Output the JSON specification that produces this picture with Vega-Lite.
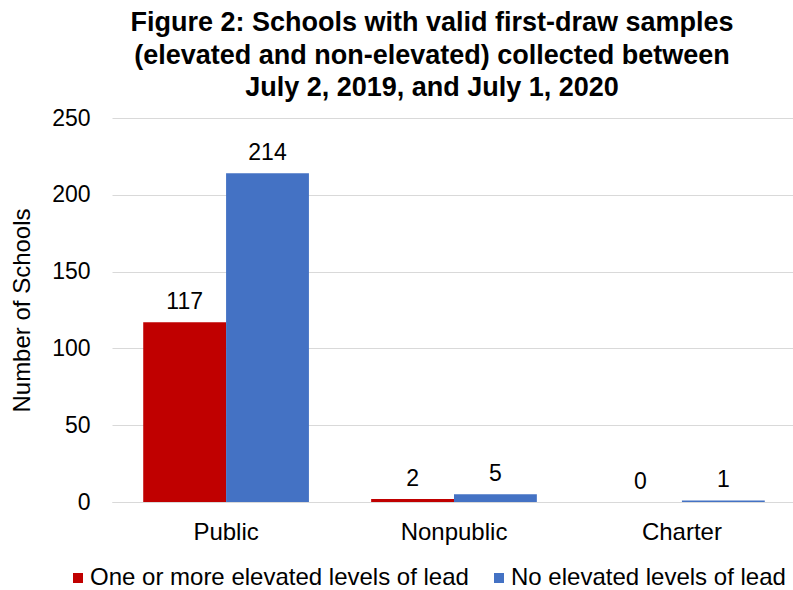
{
  "$schema": "https://vega.github.io/schema/vega-lite/v6.json",
  "autosize": "none",
  "padding": {"left": 112, "top": 118, "right": 0, "bottom": 88},
  "width": 684,
  "height": 384,
  "background": "white",
  "config": {
    "font": "Liberation Sans",
    "view": {"stroke": null}
  },
  "title": {
    "text": ["Figure 2: Schools with valid first-draw samples", "(elevated and non-elevated) collected between", "July 2, 2019, and July 1, 2020"],
    "fontSize": 27,
    "fontWeight": "bold",
    "lineHeight": 32.5,
    "color": "black",
    "anchor": "middle",
    "dx": -22,
    "offset": 5
  },
  "data": {
    "values": [
      {"type": "Public", "series": "One or more elevated levels of lead", "count": 117},
      {"type": "Public", "series": "No elevated levels of lead", "count": 214},
      {"type": "Nonpublic", "series": "One or more elevated levels of lead", "count": 2},
      {"type": "Nonpublic", "series": "No elevated levels of lead", "count": 5},
      {"type": "Charter", "series": "One or more elevated levels of lead", "count": 0},
      {"type": "Charter", "series": "No elevated levels of lead", "count": 1}
    ]
  },
  "encoding": {
    "x": {
      "field": "type",
      "type": "nominal",
      "sort": ["Public", "Nonpublic", "Charter"],
      "scale": {"paddingInner": 0.273, "paddingOuter": 0.137},
      "axis": {
        "title": null,
        "labelAngle": 0,
        "labelFontSize": 24,
        "labelColor": "black",
        "labelPadding": 18,
        "ticks": false,
        "tickSize": 0,
        "domainColor": "#D9D9D9",
        "domainWidth": 1
      }
    },
    "xOffset": {
      "field": "series",
      "type": "nominal",
      "sort": ["One or more elevated levels of lead", "No elevated levels of lead"],
      "scale": {"paddingInner": 0, "paddingOuter": 0}
    },
    "y": {
      "field": "count",
      "type": "quantitative",
      "scale": {"domain": [0, 250]},
      "axis": {
        "values": [0, 50, 100, 150, 200, 250],
        "title": "Number of Schools",
        "titleFontSize": 24,
        "titleFontWeight": "normal",
        "titleColor": "black",
        "titleAngle": -90,
        "titleX": -83,
        "titleY": 192,
        "titleAlign": "center",
        "titleBaseline": "alphabetic",
        "labelFontSize": 23,
        "labelColor": "black",
        "labelPadding": 22,
        "domain": false,
        "ticks": false,
        "gridColor": "#D9D9D9",
        "gridWidth": 1
      }
    }
  },
  "layer": [
    {
      "mark": {"type": "bar"},
      "encoding": {
        "color": {
          "field": "series",
          "type": "nominal",
          "sort": ["One or more elevated levels of lead", "No elevated levels of lead"],
          "scale": {"domain": ["One or more elevated levels of lead", "No elevated levels of lead"], "range": ["#C00000", "#4472C4"]},
          "legend": {
            "title": null,
            "orient": "none",
            "direction": "horizontal",
            "legendX": -46,
            "legendY": 448,
            "symbolType": "square",
            "symbolSize": 100,
            "symbolStrokeWidth": 0,
            "labelFontSize": 24,
            "labelColor": "black",
            "labelLimit": 0,
            "labelOffset": 0,
            "columnPadding": 18
          }
        }
      }
    },
    {
      "mark": {"type": "text", "baseline": "alphabetic", "dy": -13, "fontSize": 23, "color": "black"},
      "encoding": {
        "text": {"field": "count", "type": "quantitative"}
      }
    }
  ]
}
